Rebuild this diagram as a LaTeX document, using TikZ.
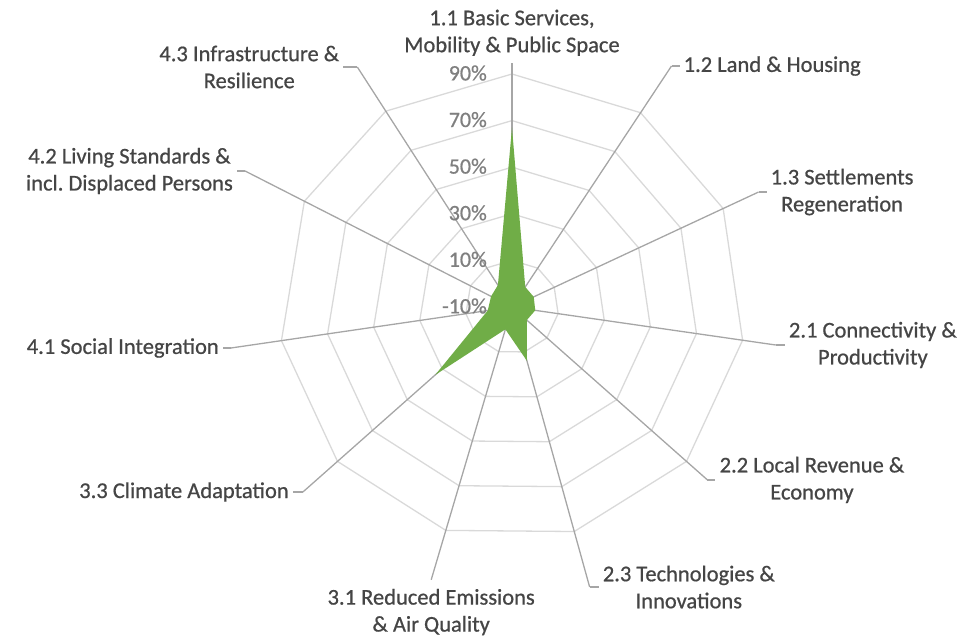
\documentclass[tikz,border=0pt]{standalone}
\usepackage{fontspec}
\setmainfont{Carlito}
\newfontfamily\chartfont{Carlito}[FakeBold=0.7]
\usetikzlibrary{positioning}

\definecolor{spokegray}{HTML}{A6A6A6}
\definecolor{ringgray}{HTML}{D9D9D9}
\definecolor{labelgray}{HTML}{454545}
\definecolor{tickgray}{HTML}{7F7F7F}
\definecolor{chartgreen}{HTML}{70AD47}

\def\ringsep{46.6}
\def\axisangles{90,56.5,25,-8.2,-41.5,-74.5,-106.5,-138.5,-171.7,153,122.8}

\begin{document}
\begin{tikzpicture}[x=1pt,y=1pt,node distance=8pt]
    \tikzstyle{ring}=[draw=ringgray,line width=1.3pt,line join=round]
    \tikzstyle{spoke}=[draw=spokegray,line width=1.3pt]
    \tikzstyle{category}=[text=labelgray,font=\chartfont\fontsize{22.5}{27}\selectfont,align=center,inner sep=4pt]
    \tikzstyle{percent}=[text=tickgray,font=\chartfont\fontsize{22}{26}\selectfont,inner sep=3pt,anchor=east]

    \useasboundingbox (-512,-334) rectangle (458,307);
    \coordinate (C) at (0,0);

    % Draw the rings (one every 20%)
    \foreach \k [evaluate=\k as \r using \k*\ringsep] in {1,...,5}
        \draw[ring] (90:\r) \foreach \a in \axisangles { -- (\a:\r) } -- cycle;

    % Where the spokes end or bend towards their label
    \coordinate (B-1) at (90:244);
    \coordinate (B-2) at (56.5:289);
    \coordinate (B-3) at (25:272);
    \coordinate (B-4) at (-8.2:266.5);
    \coordinate (B-5) at (-41.5:261);
    \coordinate (B-6) at (-74.5:290.6);
    \coordinate (B-7) at (-106.5:284.5);
    \coordinate (B-8) at (-138.5:279.2);
    \coordinate (B-9) at (-171.7:284);
    \coordinate (B-10) at (153:299.6);
    \coordinate (B-11) at (122.8:285.5);

    % Category labels
    \node[category,above=3pt of B-1] (L-1) {1.1 Basic Services,\\Mobility \& Public Space};
    \node[category,right=of B-2] (L-2) {1.2 Land \& Housing};
    \node[category,right=of B-3] (L-3) {1.3 Settlements\\Regeneration};
    \node[category,right=9pt of B-4] (L-4) {2.1 Connectivity \&\\Productivity};
    \node[category,right=of B-5] (L-5) {2.2 Local Revenue \&\\Economy};
    \node[category,right=9pt of B-6] (L-6) {2.3 Technologies \&\\Innovations};
    \node[category,below=5pt of B-7] (L-7) {3.1 Reduced Emissions\\\& Air Quality};
    \node[category,left=10pt of B-8] (L-8) {3.3 Climate Adaptation};
    \node[category,left=of B-9] (L-9) {4.1 Social Integration};
    \node[category,left=of B-10] (L-10) {4.2 Living Standards \&\\incl.\ Displaced Persons};
    \node[category,left=14pt of B-11] (L-11) {4.3 Infrastructure \&\\Resilience};

    % Spokes from the centre, then the short ticks to the labels
    \foreach \i in {1,...,11}
        \draw[spoke] (C) -- (B-\i);
    \foreach \i in {2,3,4,5,6,8,9,10,11}
        \draw[spoke] (B-\i) -- (L-\i);

    % The data
    \fill[chartgreen] (90:179.4) -- (56.5:24) -- (25:24) -- (-8.2:23.5) -- (-41.5:19.8)
        -- (-74.5:55.9) -- (-106.5:23.3) -- (-138.5:102.5) -- (-171.7:24.5)
        -- (153:23.5) -- (122.8:26) -- cycle;

    % Scale labels
    \foreach \v [count=\k from 0] in {-10,10,30,50,70,90}
        \node[percent] (P-\k) at (-22,\k*\ringsep+1) {\v\%};
\end{tikzpicture}
\end{document}
